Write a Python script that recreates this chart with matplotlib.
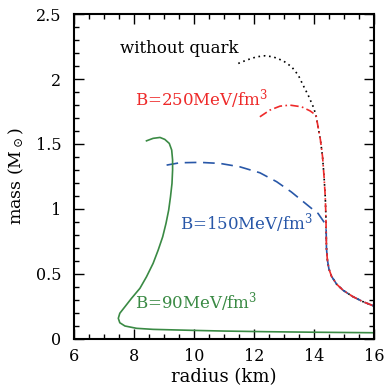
import matplotlib
matplotlib.use("Agg")
import matplotlib.pyplot as plt
from matplotlib.ticker import MultipleLocator, FuncFormatter

# Mass-radius relations of neutron stars (radius in km, mass in solar masses)

# Pure hadronic matter, upper branch (without quark)
r_hadron = [11.48, 11.76, 12.09, 12.37, 12.64, 12.98, 13.26, 13.48, 13.64, 13.81, 13.98, 14.07]
m_hadron = [2.12, 2.146, 2.171, 2.179, 2.171, 2.14, 2.094, 2.03, 1.953, 1.876, 1.786, 1.722]

# Shared low-mass hadronic branch
r_common = [14.07, 14.14, 14.22, 14.29, 14.34, 14.38, 14.40, 14.41, 14.42, 14.45, 14.50,
            14.59, 14.76, 14.98, 15.31, 15.64, 16.0]
m_common = [1.722, 1.632, 1.53, 1.401, 1.247, 1.093, 0.96, 0.84, 0.70, 0.61, 0.54,
            0.48, 0.42, 0.372, 0.323, 0.285, 0.252]

# Hybrid stars, B = 250 MeV/fm^3
r_b250 = [12.2, 12.53, 12.87, 13.2, 13.59, 13.87, 14.07]
m_b250 = [1.709, 1.76, 1.791, 1.799, 1.786, 1.755, 1.722]

# Hybrid stars, B = 150 MeV/fm^3
r_b150 = [9.09, 9.53, 10.2, 10.87, 11.53, 12.2, 12.76, 13.25, 13.92, 14.14, 14.37, 14.41]
m_b150 = [1.337, 1.355, 1.358, 1.35, 1.324, 1.278, 1.209, 1.13, 1.004, 0.965, 0.888, 0.84]

# Strange-quark-dominated stars, B = 90 MeV/fm^3
r_b90 = [8.42, 8.64, 8.87, 9.03, 9.18, 9.26, 9.29, 9.29, 9.27, 9.22, 9.16, 9.07, 8.96, 8.81,
         8.64, 8.42, 8.20, 7.92, 7.70, 7.53, 7.48, 7.53, 7.70, 8.09, 8.64, 9.31, 10.2, 11.0,
         12.42, 14.0, 16.0]
m_b90 = [1.524, 1.543, 1.550, 1.535, 1.504, 1.453, 1.376, 1.299, 1.196, 1.093, 0.991, 0.888,
         0.785, 0.683, 0.58, 0.477, 0.388, 0.311, 0.246, 0.196, 0.157, 0.123, 0.098, 0.08,
         0.072, 0.068, 0.063, 0.059, 0.054, 0.05, 0.046]

labels = ["without quark", "B=250MeV/fm$^3$", "B=150MeV/fm$^3$", "B=90MeV/fm$^3$"]

c_black = "black"
c_red = "#ee2a2a"
c_blue = "#2857a8"
c_green = "#3a8a44"

plt.rcParams["font.family"] = ["DejaVu Serif"]
plt.rcParams["mathtext.fontset"] = "dejavuserif"

fig = plt.figure(figsize=(3.85, 3.86), dpi=100)
ax = fig.add_axes([0.192, 0.1225, 0.779, 0.841])

lw = 1.2
# hadronic curve (dotted)
ax.plot(r_hadron + r_common[1:], m_hadron + m_common[1:], color=c_black, lw=lw,
        linestyle=(0, (1, 2.2)))
# B=150 (long dashes) incl. shared branch
ax.plot(r_b150, m_b150, color=c_blue, lw=lw, linestyle=(0, (7, 4)))
ax.plot(r_common[7:], m_common[7:], color=c_blue, lw=lw, linestyle=(0, (7, 2)))
# B=250 (dash-dot) incl. shared branch
ax.plot(r_b250 + r_common[1:], m_b250 + m_common[1:], color=c_red, lw=lw,
        linestyle=(0, (5, 2, 1, 2)))
# B=90 (solid)
ax.plot(r_b90, m_b90, color=c_green, lw=lw)

fs = 12
ax.text(7.53, 2.236, labels[0], color=c_black, fontsize=fs, va="center")
ax.text(8.03, 1.843, labels[1], color=c_red, fontsize=fs, va="center")
ax.text(9.53, 0.893, labels[2], color=c_blue, fontsize=fs, va="center")
ax.text(8.03, 0.285, labels[3], color=c_green, fontsize=fs, va="center")

ax.set_xlim(6, 16)
ax.set_ylim(0, 2.5)
ax.xaxis.set_major_locator(MultipleLocator(2))
ax.xaxis.set_minor_locator(MultipleLocator(0.5))
ax.yaxis.set_major_locator(MultipleLocator(0.5))
ax.yaxis.set_minor_locator(MultipleLocator(0.1))
ax.yaxis.set_major_formatter(FuncFormatter(lambda v, p: f"{v:g}"))
ax.tick_params(which="both", direction="in", top=True, right=True, width=1.0,
               labelsize=11.5)
ax.tick_params(axis="y", pad=9)
ax.tick_params(axis="x", pad=7)
ax.tick_params(which="major", length=7)
ax.tick_params(which="minor", length=3.5)
for s in ax.spines.values():
    s.set_linewidth(1.5)

ax.set_xlabel("radius (km)", fontsize=13, labelpad=2)
ax.set_ylabel(r"mass (M$_\odot$)", fontsize=12.5, labelpad=7)

fig.savefig("out.png", dpi=100)
